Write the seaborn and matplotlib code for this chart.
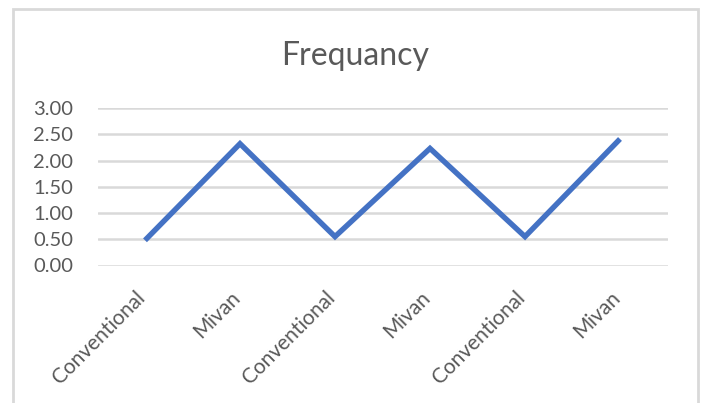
import matplotlib
matplotlib.use("Agg")
import matplotlib.pyplot as plt
from matplotlib.transforms import ScaledTranslation
from matplotlib.patches import Rectangle
import seaborn as sns
import pandas as pd

# Data
categories = ["Conventional", "Mivan", "Conventional", "Mivan", "Conventional", "Mivan"]
frequency = [0.48, 2.32, 0.55, 2.23, 0.55, 2.41]
yticks = [0.0, 0.5, 1.0, 1.5, 2.0, 2.5, 3.0]

sns.set_theme(style="white")
plt.rcParams["font.family"] = ["Lato", "DejaVu Sans"]

df = pd.DataFrame({"pos": range(len(categories)), "value": frequency})

fig = plt.figure(figsize=(7.05, 4.03), dpi=100)
ax = fig.add_axes([97.5 / 705, 1 - 265.5 / 403, 570 / 705, 157.5 / 403])

sns.lineplot(data=df, x="pos", y="value", ax=ax, sort=False,
             color="#4472C4", linewidth=3.9, solid_joinstyle="miter",
             solid_capstyle="butt")

ax.set_xlim(-0.5, len(categories) - 0.5)
ax.set_ylim(0, 3)
ax.set_yticks(yticks)
ax.set_yticklabels([f"{v:.2f}" for v in yticks], color="#595959", fontsize=14.5)
ax.set_xticks(range(len(categories)))
ax.set_xticklabels(categories, color="#595959", fontsize=15,
                   rotation=45, ha="right", va="center",
                   rotation_mode="anchor")
ax.tick_params(axis="y", length=0, pad=17.5)
ax.tick_params(axis="x", length=0, pad=21)
shift = ScaledTranslation(-0.03, 0, fig.dpi_scale_trans)
for lab in ax.get_xticklabels():
    lab.set_transform(lab.get_transform() + shift)

ax.grid(axis="y", color="#d9d9d9", linewidth=1.8)
ax.set_axisbelow(True)
for s in ax.spines.values():
    s.set_visible(False)
ax.set_xlabel("")
ax.set_ylabel("")

fig.text(355.5 / 705, 1 - 65 / 403, "Frequancy", ha="center", va="baseline",
         fontsize=23, color="#595959")

# Chart area border
fig.patches.append(Rectangle((13 / 705, -0.05), 685 / 705, 1.05 - 9 / 403,
                             transform=fig.transFigure, fill=False,
                             edgecolor="#d9d9d9", linewidth=2))

fig.savefig("out.png", dpi=100, facecolor="white")
